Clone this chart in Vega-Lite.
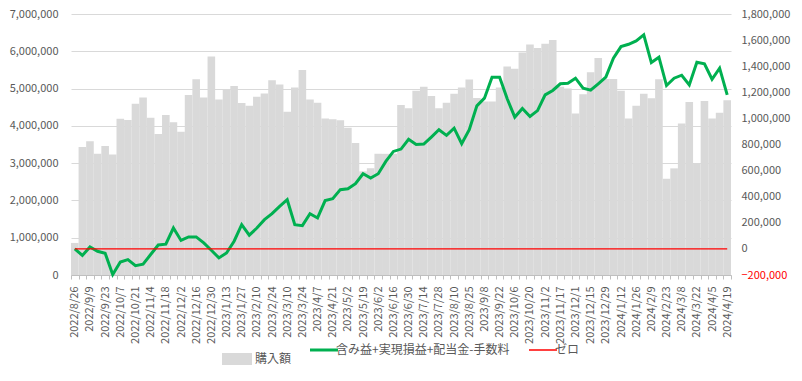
{
  "$schema": "https://vega.github.io/schema/vega-lite/v6.json",
  "width": 660,
  "height": 261,
  "autosize": {"type": "none"},
  "padding": {"left": 71, "top": 14, "right": 71, "bottom": 106},
  "background": "white",
  "config": {"view": {"stroke": null}, "font": "Noto Sans CJK JP"},
  "data": {"values": [
    {"date": "2022/8/26", "buy": 860000, "pl": 0},
    {"date": "2022/9/2", "buy": 3430000, "pl": -50000},
    {"date": "2022/9/9", "buy": 3590000, "pl": 15000},
    {"date": "2022/9/16", "buy": 3250000, "pl": -18000},
    {"date": "2022/9/23", "buy": 3460000, "pl": -33000},
    {"date": "2022/9/30", "buy": 3230000, "pl": -196000},
    {"date": "2022/10/7", "buy": 4190000, "pl": -100000},
    {"date": "2022/10/14", "buy": 4160000, "pl": -82000},
    {"date": "2022/10/21", "buy": 4590000, "pl": -128000},
    {"date": "2022/10/28", "buy": 4760000, "pl": -117000},
    {"date": "2022/11/4", "buy": 4220000, "pl": -43000},
    {"date": "2022/11/11", "buy": 3780000, "pl": 30000},
    {"date": "2022/11/18", "buy": 4290000, "pl": 36000},
    {"date": "2022/11/25", "buy": 4100000, "pl": 160000},
    {"date": "2022/12/2", "buy": 3840000, "pl": 65000},
    {"date": "2022/12/9", "buy": 4830000, "pl": 92000},
    {"date": "2022/12/16", "buy": 5250000, "pl": 92000},
    {"date": "2022/12/23", "buy": 4760000, "pl": 46000},
    {"date": "2022/12/30", "buy": 5860000, "pl": -10000},
    {"date": "2023/1/6", "buy": 4710000, "pl": -69000},
    {"date": "2023/1/13", "buy": 4990000, "pl": -31000},
    {"date": "2023/1/20", "buy": 5070000, "pl": 59000},
    {"date": "2023/1/27", "buy": 4610000, "pl": 186000},
    {"date": "2023/2/3", "buy": 4540000, "pl": 105000},
    {"date": "2023/2/10", "buy": 4780000, "pl": 160000},
    {"date": "2023/2/17", "buy": 4870000, "pl": 224000},
    {"date": "2023/2/24", "buy": 5220000, "pl": 270000},
    {"date": "2023/3/3", "buy": 5110000, "pl": 326000},
    {"date": "2023/3/10", "buy": 4380000, "pl": 377000},
    {"date": "2023/3/17", "buy": 5030000, "pl": 186000},
    {"date": "2023/3/24", "buy": 5500000, "pl": 178000},
    {"date": "2023/3/31", "buy": 4710000, "pl": 270000},
    {"date": "2023/4/7", "buy": 4620000, "pl": 237000},
    {"date": "2023/4/14", "buy": 4200000, "pl": 370000},
    {"date": "2023/4/21", "buy": 4180000, "pl": 385000},
    {"date": "2023/4/28", "buy": 4150000, "pl": 454000},
    {"date": "2023/5/2", "buy": 3950000, "pl": 461000},
    {"date": "2023/5/12", "buy": 3540000, "pl": 500000},
    {"date": "2023/5/19", "buy": 2780000, "pl": 576000},
    {"date": "2023/5/26", "buy": 2860000, "pl": 543000},
    {"date": "2023/6/2", "buy": 3250000, "pl": 576000},
    {"date": "2023/6/9", "buy": 3250000, "pl": 670000},
    {"date": "2023/6/16", "buy": 3250000, "pl": 747000},
    {"date": "2023/6/23", "buy": 4560000, "pl": 765000},
    {"date": "2023/6/30", "buy": 4470000, "pl": 840000},
    {"date": "2023/7/7", "buy": 4940000, "pl": 800000},
    {"date": "2023/7/14", "buy": 5050000, "pl": 803000},
    {"date": "2023/7/21", "buy": 4800000, "pl": 857000},
    {"date": "2023/7/28", "buy": 4470000, "pl": 913000},
    {"date": "2023/8/4", "buy": 4620000, "pl": 870000},
    {"date": "2023/8/10", "buy": 4860000, "pl": 925000},
    {"date": "2023/8/18", "buy": 5030000, "pl": 806000},
    {"date": "2023/8/25", "buy": 5240000, "pl": 913000},
    {"date": "2023/9/1", "buy": 4750000, "pl": 1096000},
    {"date": "2023/9/8", "buy": 4650000, "pl": 1155000},
    {"date": "2023/9/15", "buy": 4650000, "pl": 1316000},
    {"date": "2023/9/22", "buy": 5030000, "pl": 1316000},
    {"date": "2023/9/29", "buy": 5590000, "pl": 1150000},
    {"date": "2023/10/6", "buy": 5530000, "pl": 1010000},
    {"date": "2023/10/13", "buy": 5970000, "pl": 1076000},
    {"date": "2023/10/20", "buy": 6180000, "pl": 1015000},
    {"date": "2023/10/27", "buy": 6090000, "pl": 1060000},
    {"date": "2023/11/2", "buy": 6200000, "pl": 1180000},
    {"date": "2023/11/10", "buy": 6300000, "pl": 1214000},
    {"date": "2023/11/17", "buy": 5050000, "pl": 1265000},
    {"date": "2023/11/24", "buy": 5000000, "pl": 1270000},
    {"date": "2023/12/1", "buy": 4330000, "pl": 1308000},
    {"date": "2023/12/8", "buy": 4850000, "pl": 1231000},
    {"date": "2023/12/15", "buy": 5440000, "pl": 1216000},
    {"date": "2023/12/22", "buy": 5820000, "pl": 1265000},
    {"date": "2023/12/29", "buy": 5260000, "pl": 1316000},
    {"date": "2024/1/5", "buy": 5260000, "pl": 1461000},
    {"date": "2024/1/12", "buy": 4940000, "pl": 1550000},
    {"date": "2024/1/19", "buy": 4200000, "pl": 1568000},
    {"date": "2024/1/26", "buy": 4540000, "pl": 1594000},
    {"date": "2024/2/2", "buy": 4860000, "pl": 1640000},
    {"date": "2024/2/9", "buy": 4740000, "pl": 1428000},
    {"date": "2024/2/16", "buy": 5250000, "pl": 1469000},
    {"date": "2024/2/23", "buy": 2580000, "pl": 1252000},
    {"date": "2024/3/1", "buy": 2860000, "pl": 1308000},
    {"date": "2024/3/8", "buy": 4060000, "pl": 1331000},
    {"date": "2024/3/15", "buy": 4640000, "pl": 1257000},
    {"date": "2024/3/22", "buy": 2980000, "pl": 1430000},
    {"date": "2024/3/29", "buy": 4670000, "pl": 1418000},
    {"date": "2024/4/5", "buy": 4200000, "pl": 1300000},
    {"date": "2024/4/12", "buy": 4350000, "pl": 1385000},
    {"date": "2024/4/19", "buy": 4690000, "pl": 1180000}
  ]},
  "encoding": {
    "x": {
      "field": "date", "type": "ordinal", "sort": null,
      "scale": {"paddingInner": 0, "paddingOuter": 0},
      "axis": {
        "title": null, "labelAngle": 270, "labelFontSize": 11, "labelColor": "#595959",
        "labelExpr": "round(datum.index * 86) % 2 === 0 ? datum.label : ''",
        "labelOverlap": false, "tickBand": "extent", "tickSize": 4,
        "tickColor": "#bfbfbf", "domainColor": "#bfbfbf", "labelPadding": 7, "grid": false
      }
    }
  },
  "layer": [
    {
      "mark": {"type": "bar"},
      "encoding": {
        "y": {
          "field": "buy", "type": "quantitative",
          "scale": {"domain": [0, 7000000], "nice": false},
          "axis": {
            "title": null, "format": ",.0f", "values": [0, 1000000, 2000000, 3000000, 4000000, 5000000, 6000000, 7000000],
            "labelFontSize": 11, "labelColor": "#595959", "domain": false, "ticks": false,
            "gridColor": "#d9d9d9", "labelPadding": 13
          }
        },
        "fill": {
          "datum": "購入額",
          "scale": {"domain": ["購入額"], "range": ["#d9d9d9"]},
          "legend": {
            "orient": "none", "legendX": 151, "legendY": 330, "direction": "horizontal", "title": null,
            "symbolSize": 900, "symbolType": "M-1,-0.4H1V0.4H-1Z", "symbolStrokeWidth": 0,
            "labelFontSize": 12, "labelColor": "#595959", "labelOffset": 3
          }
        }
      }
    },
    {
      "layer": [
        {
          "mark": {"type": "line", "strokeWidth": 3},
          "encoding": {
            "y": {
              "field": "pl", "type": "quantitative",
              "scale": {"domain": [-200000, 1800000], "nice": false},
              "axis": {
                "orient": "right", "title": null, "format": ",.0f",
                "values": [-200000, 0, 200000, 400000, 600000, 800000, 1000000, 1200000, 1400000, 1600000, 1800000],
                "labelFontSize": 11,
                "labelColor": {"condition": {"test": "datum.value < 0", "value": "#ff0000"}, "value": "#595959"},
                "domain": false, "ticks": false, "grid": false, "labelPadding": 10
              }
            },
            "stroke": {
              "datum": "含み益+実現損益+配当金-手数料",
              "scale": {"domain": ["含み益+実現損益+配当金-手数料", "ゼロ"], "range": ["#00b050", "#ff0000"]},
              "legend": {
                "orient": "none", "legendX": 247, "legendY": 330, "direction": "horizontal", "title": null,
                "symbolSize": 784, "symbolType": "stroke", "labelLimit": 400,
                "labelFontSize": 12, "labelColor": "#595959", "labelOffset": 6, "columnPadding": 16,
                "encode": {"symbols": {"update": {
                  "strokeWidth": {"signal": "datum.value === 'ゼロ' ? 1.5 : 3"},
                  "opacity": {"value": 1}
                }}}
              }
            }
          }
        },
        {
          "mark": {"type": "line", "strokeWidth": 1.3},
          "encoding": {
            "y": {
              "datum": 0, "type": "quantitative",
              "scale": {"domain": [-200000, 1800000], "nice": false},
              "axis": {
                "orient": "right", "title": null, "format": ",.0f",
                "values": [-200000, 0, 200000, 400000, 600000, 800000, 1000000, 1200000, 1400000, 1600000, 1800000],
                "labelFontSize": 11,
                "labelColor": {"condition": {"test": "datum.value < 0", "value": "#ff0000"}, "value": "#595959"},
                "domain": false, "ticks": false, "grid": false, "labelPadding": 10
              }
            },
            "stroke": {"datum": "ゼロ"}
          }
        }
      ]
    }
  ],
  "resolve": {"scale": {"y": "independent"}}
}
